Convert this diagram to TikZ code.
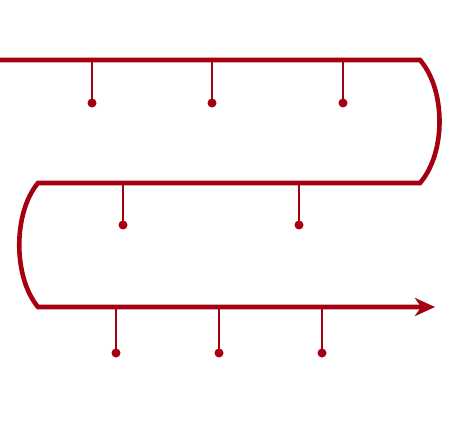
\documentclass[tikz,border=0pt]{standalone}
\usetikzlibrary{arrows.meta}
\tikzstyle{every picture}=[semithick,>=stealth]
\definecolor{darkred}{RGB}{165,0,17}
\tikzset{
  track/.style={darkred,line width=4.6bp},
  tick/.style={darkred,line width=2.6bp},
  dot/.style={circle,fill=darkred,inner sep=0pt,minimum size=9bp}
}

\begin{document}
\begin{tikzpicture}[x=1bp,y=-1bp]
            \useasboundingbox (0,0) rectangle (455,440);

            % corners of the track
            \coordinate (a0) at (0,60);
            \coordinate (a1) at (420,60);
            \coordinate (b1) at (420,183);
            \coordinate (b0) at (38,183);
            \coordinate (c0) at (38,307);
            \coordinate (c1) at (435,307);

            \draw[track,-{Stealth[length=20bp,width=18bp,inset=6bp]}]
                (a0) -- (a1) .. controls (446,90) and (446,153) .. (b1)
                -- (b0) .. controls (13,213) and (13,277) .. (c0) -- (c1);

            % stubs
            \foreach \x [count=\i] in {92,212,343}{
                \coordinate (ta\i) at (\x,60);
                \node[dot] (da\i) at (\x,103) {};
                \draw[tick] (ta\i) -- (da\i.center);
            }
            \foreach \x [count=\i] in {123,299}{
                \coordinate (tb\i) at (\x,183);
                \node[dot] (db\i) at (\x,225) {};
                \draw[tick] (tb\i) -- (db\i.center);
            }
            \foreach \x [count=\i] in {116,219,322}{
                \coordinate (tc\i) at (\x,307);
                \node[dot] (dc\i) at (\x,353) {};
                \draw[tick] (tc\i) -- (dc\i.center);
            }
\end{tikzpicture}
\end{document}
